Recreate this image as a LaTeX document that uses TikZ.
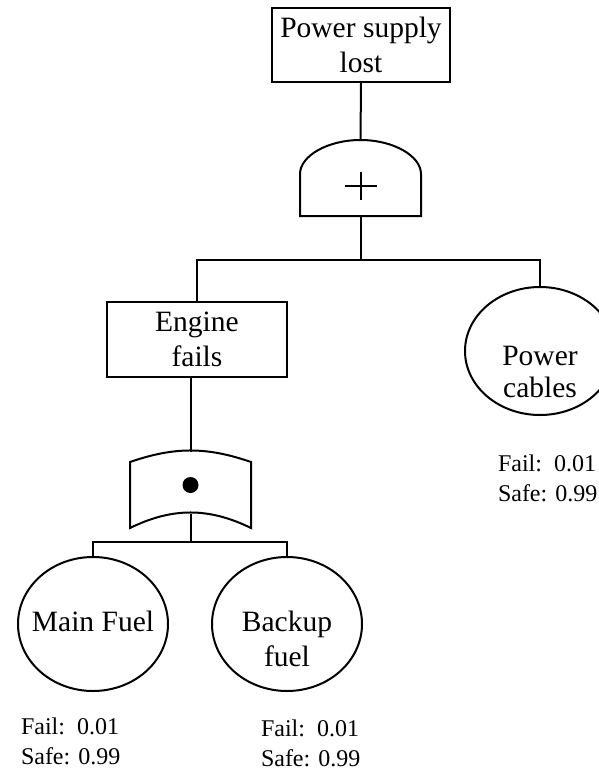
\documentclass[tikz,border=0pt]{standalone}
\usepackage{fontspec}
\setmainfont{Liberation Serif}
\usetikzlibrary{positioning,shapes.geometric}

\begin{document}
\begin{tikzpicture}[x=1pt, y=-1pt, line width=2pt,
  every node/.style={font=\fontsize{29.5}{35}\selectfont, inner sep=0pt},
  event/.style={draw, rectangle, align=center, minimum width=178pt, minimum height=74pt},
  basic/.style={draw, ellipse, minimum width=150pt, minimum height=134pt},
  gatebox/.style={rectangle, minimum width=119pt, minimum height=74pt},
  prob/.style={font=\fontsize{24}{30}\selectfont, align=left, anchor=north west}]
  \useasboundingbox (0,0) rectangle (598,771);
  % top event and or-gate
  \node[event] (top) at (361,45) {Power supply\\lost};
  \node[gatebox] (orgate) at (360.5,178) {};
  \draw (orgate.south west) -- ++(0,42pt) .. controls ++(0,18pt) and ++(-33pt,0) .. (orgate.north)
        .. controls ++(33pt,0) and ++(0,18pt) .. ([yshift=42pt]orgate.south east)
        -- (orgate.south east) -- cycle;
  \draw ([xshift=-16pt]orgate.center) ++(0,-8pt) -- ++(32pt,0)
        ([yshift=6pt]orgate.center) -- ++(0,-28pt);
  \draw (top.south) -- (orgate.north);
  % second level
  \node[event, minimum width=180pt, minimum height=75pt] (engine) at (197,339.5) {Engine\\fails};
  \node[basic, minimum height=128pt] (cables) at (540,351) {};
  \node[anchor=north, align=center, font=\fontsize{29.5}{32}\selectfont] (cablestxt) at (540,345) {Power\\cables};
  \coordinate (orjoin) at (360.5,260);
  \draw (orgate.south) -- (orjoin);
  \draw (engine.north) |- (orjoin) -| (cables.north);
  % and-gate
  \node[gatebox] (andgate) at (190.5,490) {};
  \draw ([yshift=-10pt]andgate.north west) to[bend left=19] ([yshift=-10pt]andgate.north east)
        -- (andgate.south east) to[bend right=26] (andgate.south west) -- cycle;
  \node[circle, fill, minimum size=16pt] (anddot) at (190.5,485) {};
  \draw (engine.south -| andgate.north) -- (andgate.north);
  % basic events
  \node[basic] (mainfuel) at (93,624) {};
  \node[basic] (backup) at (287,624) {};
  \node[anchor=north] (maintxt) at (93,610) {Main Fuel};
  \node[anchor=north, align=center] (backuptxt) at (287,610) {Backup\\fuel};
  \coordinate (andjoin) at (190.5,542);
  \draw ([yshift=14pt]andgate.south) -- (andjoin);
  \draw (mainfuel.north) |- (andjoin) -| (backup.north);
  % probabilities
  \node[prob] (mainprob) at (20,717) {Fail:\ \ 0.01\\Safe: 0.99};
  \node[prob] (backupprob) at (260,719) {Fail:\ \ 0.01\\Safe: 0.99};
  \node[prob] (cablesprob) at (497,454) {Fail:\ \ 0.01\\Safe: 0.99};
\end{tikzpicture}
\end{document}
